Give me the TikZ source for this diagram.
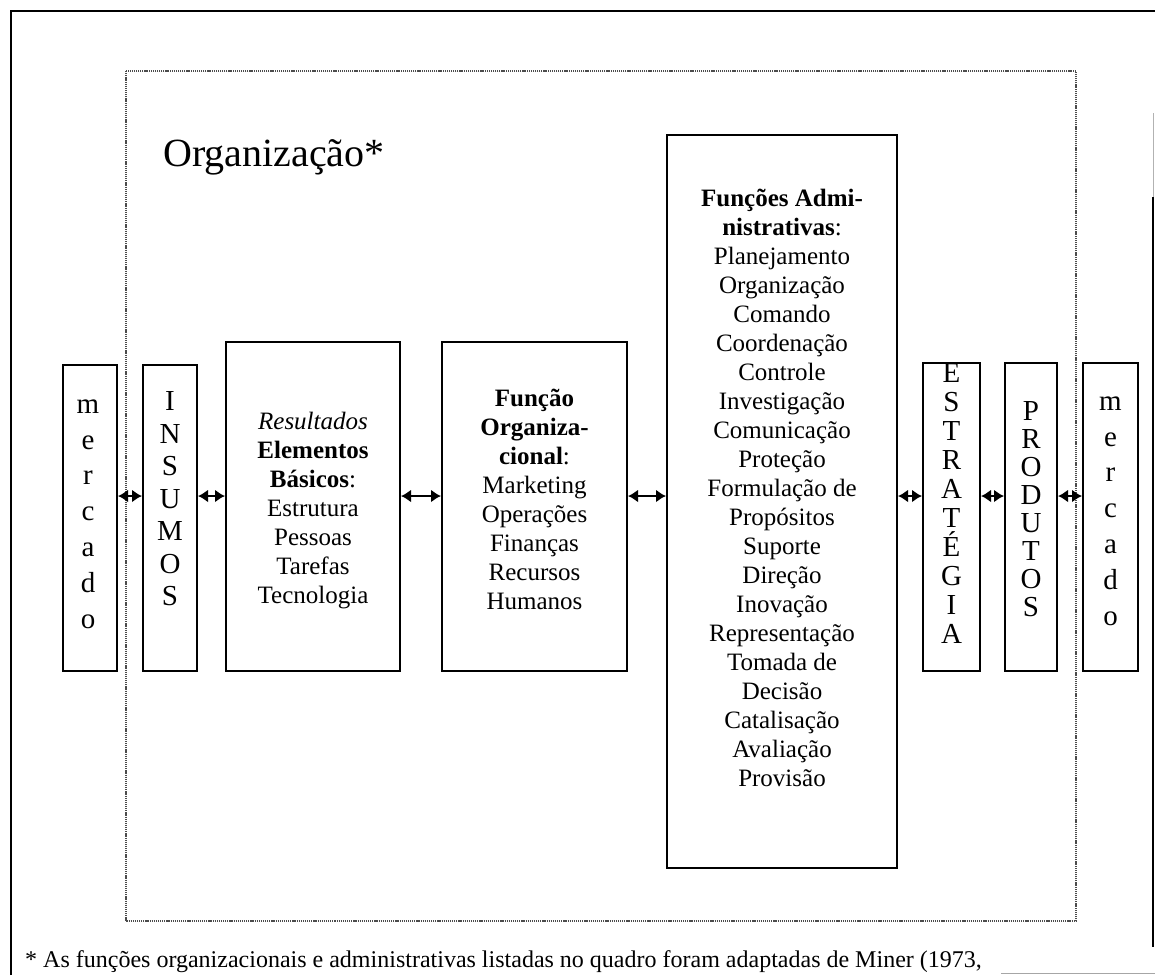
\documentclass[tikz,border=0pt]{standalone}
\usepackage{fontspec}
\setmainfont{Liberation Serif}
\usetikzlibrary{arrows.meta}
\begin{document}
\begin{tikzpicture}[x=1pt,y=-1pt,
  box/.style={draw, line width=2pt, inner sep=0pt},
  body/.style={align=center, inner sep=0pt, font=\fontsize{25}{29}\selectfont},
  letters/.style={align=center, inner sep=0pt, font=\fontsize{29}{#1}\selectfont},
  biarrow/.style={line width=2.2pt, {Latex[length=10pt,width=13pt]}-{Latex[length=10pt,width=13pt]}},
  frame/.style={line width=1.8pt, black},
  dotbox/.style={line width=1.4pt, black!70, dash pattern=on 1.2pt off 0.9pt}
]
\useasboundingbox (0,0) rectangle (1155,975);
% outer frame
\coordinate (fTL) at (11,11);
\coordinate (fTR) at (1155,11);
\coordinate (fBL) at (11,975);
\coordinate (fR1) at (1153,113);
\coordinate (fR2) at (1153,197);
\coordinate (fR3) at (1153,947);
\draw[frame] (fBL) -- (fTL) -- (fTR);
\draw[line width=1pt, black!30] (fR1) -- (fR2);
\draw[frame] (fR2) -- (fR3);
\coordinate (gl1) at (1001,973);
\coordinate (gl2) at (1155,973);
\draw[line width=0.8pt, black!35] (gl1) -- (gl2);
% dotted organisation frame
\coordinate (dTL) at (126,71);
\coordinate (dBR) at (1076,921);
\draw[dotbox] (dTL) rectangle (dBR);
\node[anchor=base west, inner sep=0pt, font=\fontsize{40}{44}\selectfont] (title) at (163,166) {Organização*};
% boxes
\node[box, minimum width=54pt, minimum height=306pt] (merL) at (90,518) {};
\node[box, minimum width=54pt, minimum height=306pt] (ins) at (170,518) {};
\node[box, minimum width=174pt, minimum height=329pt] (elem) at (313,506.5) {};
\node[box, minimum width=185pt, minimum height=329pt] (forg) at (534.5,506.5) {};
\node[box, minimum width=230pt, minimum height=733pt] (fadm) at (782,501.5) {};
\node[box, minimum width=57pt, minimum height=308pt] (estr) at (951.5,517) {};
\node[box, minimum width=52pt, minimum height=308pt] (prod) at (1031,517) {};
\node[box, minimum width=55pt, minimum height=308pt] (merR) at (1110.5,517) {};
% texts
\node[letters=35.8] (merLt) at (88,514) {m\\e\\r\\c\\a\\d\\o};
\node[letters=32.5] (inst) at (170,499) {I\\N\\S\\U\\M\\O\\S};
\node[body] (elemt) at (313,511) {\textit{Resultados}\\\textbf{Elementos}\\\textbf{Básicos}:\\Estrutura\\Pessoas\\Tarefas\\Tecnologia};
\node[body] (forgt) at (534.5,499) {\textbf{Função}\\\textbf{Organiza-}\\\textbf{cional}:\\Marketing\\Operações\\Finanças\\Recursos\\Humanos};
\node[body] (fadmt) at (782,488) {\textbf{Funções Admi-}\\\textbf{nistrativas}:\\Planejamento\\Organização\\Comando\\Coordenação\\Controle\\Investigação\\Comunicação\\Proteção\\Formulação de\\Propósitos\\Suporte\\Direção\\Inovação\\Representação\\Tomada de\\Decisão\\Catalisação\\Avaliação\\Provisão};
\node[letters=29] (estrt) at (951.5,503) {E\\S\\T\\R\\A\\T\\É\\G\\I\\A};
\node[letters=28] (prodt) at (1031,509) {P\\R\\O\\D\\U\\T\\O\\S};
\node[letters=35.8] (merRt) at (1110.5,511) {m\\e\\r\\c\\a\\d\\o};
% arrows
\coordinate (ay) at (0,496);
\draw[biarrow] (merL.east |- ay) -- (ins.west |- ay);
\draw[biarrow] (ins.east |- ay) -- (elem.west |- ay);
\draw[biarrow] (elem.east |- ay) -- (forg.west |- ay);
\draw[biarrow] (forg.east |- ay) -- (fadm.west |- ay);
\draw[biarrow] (fadm.east |- ay) -- (estr.west |- ay);
\draw[biarrow] (estr.east |- ay) -- (prod.west |- ay);
\draw[biarrow] (prod.east |- ay) -- (merR.west |- ay);
% footnote
\node[anchor=base west, inner sep=0pt, font=\fontsize{24}{27}\selectfont] (foot) at (25,967) {* As funções organizacionais e administrativas listadas no quadro foram adaptadas de Miner (1973,};
\end{tikzpicture}
\end{document}
